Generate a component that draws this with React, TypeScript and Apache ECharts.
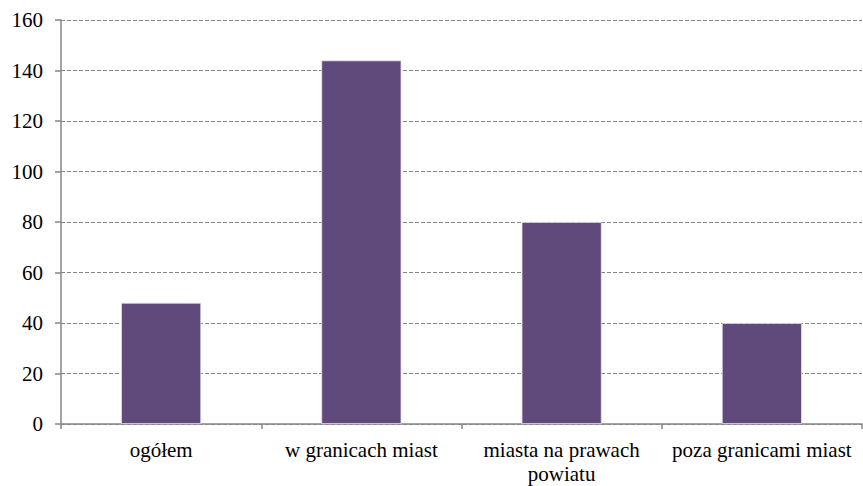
import React, { useEffect, useRef } from "react";
import * as echarts from "echarts";

const categories = ["ogółem", "w granicach miast", "miasta na prawach\npowiatu", "poza granicami miast"];
const values = [48, 144, 80, 40];
const yTicks = { min: 0, max: 160, interval: 20 };

const FONT = "serif";

export default function App() {
  const ref = useRef<HTMLDivElement>(null);
  useEffect(() => {
    const chart = echarts.init(ref.current!, null, { renderer: "svg" });
    chart.setOption({
      animation: false,
      grid: { left: 61, right: 1, top: 20, bottom: 61 },
      xAxis: {
        type: "category",
        data: categories,
        axisLine: { lineStyle: { color: "#868686", width: 1.5 } },
        axisTick: { show: true, length: 5, lineStyle: { color: "#868686", width: 1.5 } },
        axisLabel: {
          interval: 0,
          margin: 14,
          color: "#000",
          fontFamily: FONT,
          fontSize: 21,
          lineHeight: 24,
        },
      },
      yAxis: {
        type: "value",
        min: yTicks.min,
        max: yTicks.max,
        interval: yTicks.interval,
        axisLine: { show: true, lineStyle: { color: "#868686", width: 1.5 } },
        axisTick: { show: true, length: 6, lineStyle: { color: "#868686", width: 1.5 } },
        axisLabel: {
          color: "#000",
          fontFamily: FONT,
          fontSize: 21,
          margin: 18,
        },
        splitLine: { show: true, lineStyle: { color: "#868686", type: [4, 2], width: 1 } },
      },
      series: [
        {
          type: "bar",
          data: values,
          barWidth: "40%",
          itemStyle: { color: "#604A7B", borderColor: "#E8E2F0", borderWidth: 0.8 },
        },
      ],
    });
    return () => chart.dispose();
  }, []);
  return (
    <div
      ref={ref}
      style={{ position: "fixed", left: 0, top: 0, width: 863, height: 486, background: "#fff" }}
    />
  );
}
